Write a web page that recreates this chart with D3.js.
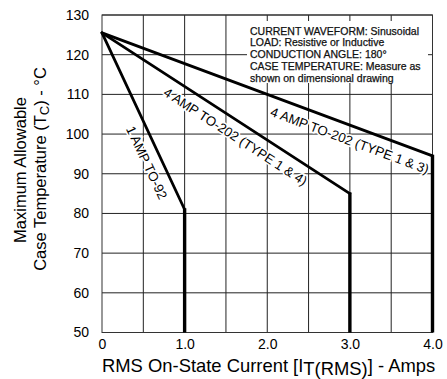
<!DOCTYPE html>
<html>
<head>
<meta charset="utf-8">
<script src="https://cdn.jsdelivr.net/npm/d3@7"></script>
<style>
  html, body { margin: 0; padding: 0; background: #fff; }
  svg { display: block; font-family: "Liberation Sans", Arial, Helvetica, sans-serif; }
</style>
</head>
<body>
<div id="chart"></div>
<script>
// data
const xTicks = [0, 1, 2, 3, 4];
const xTickLabels = ['0', '1.0', '2.0', '3.0', '4.0'];
const xGrid = [0.5, 1, 1.5, 2, 2.5, 3, 3.5];
const yTicks = [50, 60, 70, 80, 90, 100, 110, 120, 130];

const lineNames = ['1 AMP TO-92', '4 AMP TO-202 (TYPE 1 & 4)', '4 AMP TO-202 (TYPE 1 & 3)'];
const startTemp = 125.5;          // all three start here at 0 A
const ratedCurrent = [1.0, 3.0, 4.0];
const kneeTemp = [81, 85, 94.5];
const floorTemp = 50;

const notes = [
  'CURRENT WAVEFORM: Sinusoidal',
  'LOAD: Resistive or Inductive',
  'CONDUCTION ANGLE: 180\u00b0',
  'CASE TEMPERATURE: Measure as',
  'shown on dimensional drawing'
];

const W = 447, H = 379;
const margin = { top: 15, right: 14.5, bottom: 46.5, left: 102 };

const svg = d3.select('#chart').append('svg')
  .attr('width', W)
  .attr('height', H);

const x = d3.scaleLinear().domain([0, 4]).range([margin.left, W - margin.right]);
const y = d3.scaleLinear().domain([50, 130]).range([H - margin.bottom, margin.top]);

// grid
svg.append('g')
  .selectAll('line')
  .data(xGrid)
  .enter().append('line')
  .attr('x1', d => x(d)).attr('x2', d => x(d))
  .attr('y1', y(130)).attr('y2', y(50))
  .attr('stroke', '#222').attr('stroke-width', 1);

svg.append('g')
  .selectAll('line')
  .data(yTicks)
  .enter().append('line')
  .attr('x1', x(0)).attr('x2', x(4))
  .attr('y1', d => y(d)).attr('y2', d => y(d))
  .attr('stroke', '#222').attr('stroke-width', 1);

svg.append('rect')
  .attr('x', x(0)).attr('y', y(130))
  .attr('width', x(4) - x(0)).attr('height', y(50) - y(130))
  .attr('fill', 'none').attr('stroke', '#333').attr('stroke-width', 1);

// white box behind the notes hides the grid
svg.append('rect')
  .attr('x', 247).attr('y', 21)
  .attr('width', 181).attr('height', 62)
  .attr('fill', '#fff');

svg.append('g')
  .selectAll('text')
  .data(notes)
  .enter().append('text')
  .attr('x', 250)
  .attr('y', (d, i) => 34.5 + i * 11.8)
  .attr('font-size', 10.5)
  .attr('fill', '#111')
  .attr('stroke', '#111').attr('stroke-width', 0.25)
  .text(d => d);

// axes (labels only, ticks are the grid)
const xAxis = svg.append('g')
  .attr('transform', `translate(0,${y(50)})`)
  .call(d3.axisBottom(x).tickValues(xTicks).tickSize(0).tickPadding(7)
    .tickFormat((d, i) => xTickLabels[i]));
xAxis.select('.domain').remove();
xAxis.selectAll('text').attr('font-size', 14).attr('fill', '#000')
  .attr('font-family', '"Liberation Sans", Arial, sans-serif');

const yAxis = svg.append('g')
  .attr('transform', `translate(${x(0)},0)`)
  .call(d3.axisLeft(y).tickValues(yTicks).tickSize(0).tickPadding(13));
yAxis.select('.domain').remove();
yAxis.selectAll('text').attr('font-size', 14).attr('fill', '#000')
  .attr('font-family', '"Liberation Sans", Arial, sans-serif');

// curves
const line = d3.line().x(d => x(d[0])).y(d => y(d[1]));

lineNames.forEach((name, i) => {
  svg.append('path')
    .datum([[0, startTemp], [ratedCurrent[i], kneeTemp[i]]])
    .attr('d', line)
    .attr('fill', 'none').attr('stroke', '#000').attr('stroke-width', 2.8)
    .attr('stroke-linecap', 'round');
  svg.append('path')
    .datum([[ratedCurrent[i], kneeTemp[i] + 0.3], [ratedCurrent[i], floorTemp]])
    .attr('d', line)
    .attr('fill', 'none').attr('stroke', '#000').attr('stroke-width', 3.4);
});

// curve labels along the lines
const labelT = [0.70, 0.57, 0.765];
const labelOff = 14.5;
lineNames.forEach((name, i) => {
  const x0 = x(0), y0 = y(startTemp);
  const vx = x(ratedCurrent[i]) - x0, vy = y(kneeTemp[i]) - y0;
  const len = Math.hypot(vx, vy);
  const px = x0 + vx * labelT[i] - vy / len * labelOff;
  const py = y0 + vy * labelT[i] + vx / len * labelOff;
  const ang = Math.atan2(vy, vx) * 180 / Math.PI;
  svg.append('text')
    .attr('transform', `translate(${px},${py}) rotate(${ang})`)
    .attr('text-anchor', 'middle')
    .attr('dominant-baseline', 'central')
    .attr('font-size', 13.2)
    .attr('stroke', '#fff').attr('stroke-width', 3).attr('paint-order', 'stroke')
    .attr('fill', '#000')
    .text(name);
});

// axis titles
const xt = svg.append('text')
  .attr('x', x(0))
  .attr('y', 372)
  .attr('font-size', 18.4)
  .attr('fill', '#000');
xt.append('tspan').text('RMS On-State Current [I');
xt.append('tspan').attr('dy', 3).text('T(RMS)');
xt.append('tspan').attr('dy', -3).text('] - Amps');

svg.append('text')
  .attr('transform', 'translate(26,170) rotate(-90)')
  .attr('text-anchor', 'middle')
  .attr('font-size', 16.5)
  .attr('fill', '#000')
  .text('Maximum Allowable');

const yt = svg.append('text')
  .attr('transform', 'translate(46,169) rotate(-90)')
  .attr('text-anchor', 'middle')
  .attr('font-size', 16.5)
  .attr('fill', '#000');
yt.append('tspan').text('Case Temperature (T');
yt.append('tspan').attr('dy', 3).attr('font-size', 13).text('C');
yt.append('tspan').attr('dy', -3).text(') - \u00b0C');
</script>
</body>
</html>
